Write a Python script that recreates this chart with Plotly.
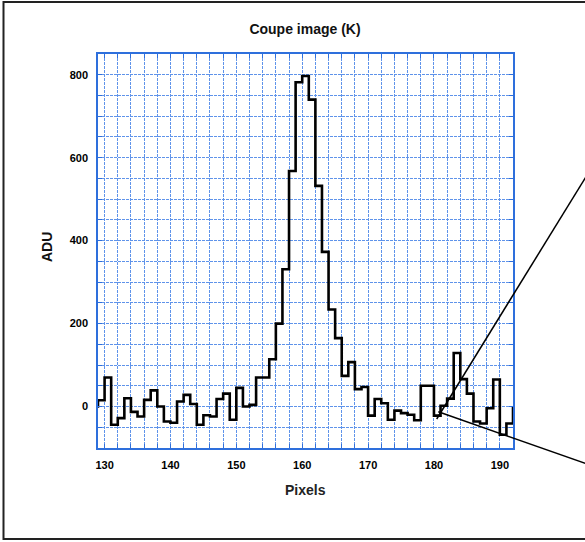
import plotly.graph_objects as go

# Pixel positions (left edge of each step) and ADU values
pixels = list(range(128, 193))
adu = [0, 15, 70, -44, -28, 20, -13, -24, 16, 39,
       0, -36, -39, 12, 28, 6, -44, -21, -24, 18,
       31, -32, 45, 0, 4, 70, 70, 114, 200, 331,
       568, 782, 797, 740, 532, 373, 234, 165, 74, 107,
       42, 47, -22, 18, 8, -32, -10, -16, -20, -33,
       50, 50, -22, 2, 19, 129, 66, 31, -36, -41,
       -4, 65, -68, -41, 0]

# grid / tick positions and their labels (blank = grid line only)
x_grid = list(range(130, 193, 2))
x_labels = [str(v) if v % 10 == 0 else "" for v in x_grid]
y_grid = list(range(-100, 851, 50))
y_labels = [str(v) if v % 200 == 0 and v >= 0 else "" for v in y_grid]

W, H = 585, 542
ML, MR, MT, MB = 98, 72, 54, 94
PW, PH = W - ML - MR, H - MT - MB

def px(xpix):
    return (xpix - ML) / PW

def py(ypix):
    return (H - MB - ypix) / PH

blue = "#2e6fdc"
grid = "#5f93ea"
font_family = "Liberation Sans, Arial, sans-serif"

fig = go.Figure()
fig.add_trace(go.Scatter(
    x=pixels, y=adu, mode="lines", line_shape="hv",
    line=dict(color="black", width=2.6), showlegend=False, hoverinfo="skip"))

axis_common = dict(
    showline=True, linecolor=blue, linewidth=1.5, mirror="ticks",
    ticks="inside", ticklen=4, tickcolor=blue, tickwidth=1,
    showgrid=True, gridcolor=grid, griddash="3px,1px", gridwidth=1,
    zeroline=False, ticklabelstandoff=6,
    tickfont=dict(family=font_family, size=11, color="black", weight="bold"),
)

fig.update_xaxes(range=[129, 192], tickmode="array", tickvals=x_grid,
                 ticktext=x_labels, **axis_common)
fig.update_yaxes(range=[-100, 850], tickmode="array", tickvals=y_grid,
                 ticktext=y_labels, **axis_common)

shapes = [
    # outer frame
    dict(type="rect", xref="paper", yref="paper",
         x0=px(3.5), x1=px(620), y0=py(539), y1=py(2),
         line=dict(color="#222", width=2), layer="above"),
    # leader lines
    dict(type="line", xref="paper", yref="paper",
         x0=px(436.7), y0=py(419), x1=px(600), y1=py(154),
         line=dict(color="black", width=1.5), layer="above"),
    dict(type="line", xref="paper", yref="paper",
         x0=px(438.3), y0=py(411.7), x1=px(600), y1=py(468.6),
         line=dict(color="black", width=1.5), layer="above"),
]

annotations = [
    dict(text="Pixels", xref="paper", yref="paper", x=px(305), y=py(490),
         showarrow=False, xanchor="center", yanchor="middle",
         font=dict(family=font_family, size=14, color="#222", weight="bold")),
    dict(text="ADU", xref="paper", yref="paper", x=px(47), y=py(247),
         showarrow=False, xanchor="center", yanchor="middle", textangle=-90,
         font=dict(family=font_family, size=14, color="#111", weight="bold")),
]

fig.update_layout(
    width=W, height=H,
    margin=dict(l=ML, r=MR, t=MT, b=MB),
    paper_bgcolor="white", plot_bgcolor="white",
    title=dict(text="Coupe image (K)", x=px(305), xref="paper", xanchor="center",
               y=1 - 29 / H, yanchor="middle",
               font=dict(family=font_family, size=14, color="#111", weight="bold")),
    shapes=shapes, annotations=annotations,
)

fig.write_html(
    "out.html",
    config={"displayModeBar": False},
    post_script="document.body.style.margin='0';document.body.style.overflow='hidden';",
)
